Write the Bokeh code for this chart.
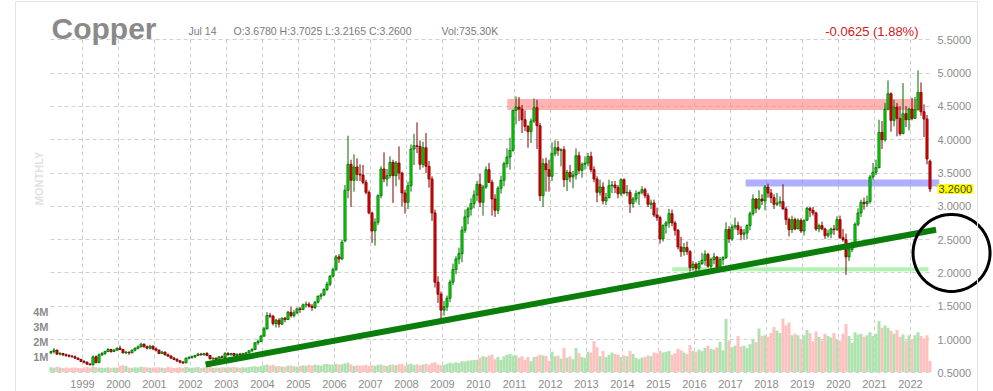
import math
from bokeh.plotting import figure
from bokeh.models import (ColumnDataSource, Range1d, LinearAxis, FixedTicker,
                          NumeralTickFormatter, Label, PolyAnnotation, BoxAnnotation)
from bokeh.embed import file_html
from bokeh.resources import INLINE

# ---------------- data (monthly, Feb 1998 .. Jul 2022) ----------------
start_year, start_month = 1998, 2

opens = [
    .80, .82, .84, .78, .79, .77, .76, .75, .74, .72, .70,
    .67, .66, .63, .62, .74, .655, .77, .79, .82, .85, .82, .84,
    .87, .85, .80, .81, .80, .84, .87, .89, .93, .89, .87, .90,
    .86, .84, .79, .81, .77, .75, .72, .70, .68, .66, .65, .72,
    .73, .74, .76, .78, .77, .79, .76, .71, .72, .70, .74, .73,
    .79, .77, .79, .76, .78, .77, .79, .80, .83, .85, .95, .97,
    1.05, 1.16, 1.36, 1.35, 1.24, 1.29, 1.23, 1.32, 1.30, 1.41, 1.36, 1.40,
    1.46, 1.45, 1.52, 1.53, 1.50, 1.48, 1.56, 1.65, 1.67, 1.75, 1.83, 1.95,
    2.05, 2.24, 2.21, 2.48, 3.24, 3.63, 3.39, 3.59, 3.48, 3.47, 3.36, 3.21,
    2.90, 2.63, 2.76, 3.16, 3.56, 3.41, 3.46, 3.66, 3.46, 3.65, 3.50, 3.20,
    3.06, 3.31, 3.86, 3.91, 3.90, 3.63, 3.88, 3.60, 3.41, 2.90, 1.86, 1.68,
    1.44, 1.49, 1.62, 1.86, 2.05, 2.21, 2.29, 2.64, 2.84, 2.96, 3.04, 3.17,
    3.33, 3.06, 3.29, 3.55, 3.36, 3.11, 2.94, 3.27, 3.39, 3.64, 3.74, 3.84,
    4.44, 4.49, 4.46, 4.30, 4.20, 4.12, 4.28, 4.48, 4.21, 3.16, 3.64, 3.55,
    3.45, 3.79, 3.88, 3.84, 3.85, 3.40, 3.51, 3.44, 3.47, 3.76, 3.54, 3.63,
    3.65, 3.75, 3.55, 3.41, 3.21, 3.29, 3.08, 3.13, 3.31, 3.32, 3.28, 3.19,
    3.40, 3.20, 3.21, 3.04, 3.11, 3.19, 3.21, 3.25, 3.16, 3.03, 3.05, 2.87,
    2.83, 2.51, 2.71, 2.75, 2.89, 2.75, 2.64, 2.39, 2.32, 2.38, 2.32, 2.08,
    2.13, 2.07, 2.14, 2.19, 2.28, 2.10, 2.20, 2.24, 2.08, 2.20, 2.23, 2.65,
    2.51, 2.69, 2.71, 2.65, 2.58, 2.60, 2.71, 2.89, 3.11, 2.97, 3.11, 3.08,
    3.29, 3.20, 3.13, 3.03, 3.05, 3.07, 2.96, 2.80, 2.65, 2.80, 2.66, 2.79,
    2.63, 2.79, 2.97, 2.94, 2.90, 2.66, 2.71, 2.66, 2.56, 2.59, 2.66, 2.65,
    2.80, 2.53, 2.50, 2.24, 2.35, 2.43, 2.73, 2.90, 3.06, 3.04, 3.07, 3.44,
    3.51, 3.58, 4.11, 4.00, 4.46, 4.69, 4.29, 4.49, 4.32, 4.09, 4.39, 4.30,
    4.46, 4.32, 4.45, 4.71, 4.42, 4.31, 3.678,
]
highs = [
    .83, .87, .85, .81, .80, .79, .78, .77, .76, .73, .71,
    .69, .67, .65, .76, .76, .79, .81, .83, .87, .86, .86, .88,
    .91, .86, .83, .82, .85, .88, .91, .95, .94, .91, .92, .91,
    .88, .85, .83, .82, .79, .77, .74, .72, .69, .68, .73, .75,
    .76, .77, .80, .80, .80, .81, .77, .73, .73, .75, .76, .81,
    .81, .80, .80, .79, .80, .80, .81, .84, .87, .96, 1.00, 1.07,
    1.19, 1.41, 1.40, 1.37, 1.31, 1.32, 1.33, 1.34, 1.43, 1.49, 1.44, 1.48,
    1.49, 1.54, 1.57, 1.56, 1.53, 1.58, 1.66, 1.70, 1.77, 1.87, 1.97, 2.08,
    2.27, 2.28, 2.50, 3.32, 4.06, 3.70, 3.78, 3.72, 3.63, 3.62, 3.40, 3.24,
    2.92, 2.82, 3.18, 3.60, 3.81, 3.56, 3.75, 3.70, 3.68, 3.90, 3.52, 3.25,
    3.37, 3.93, 4.09, 4.26, 3.99, 3.97, 4.10, 3.68, 3.45, 2.95, 1.95, 1.72,
    1.58, 1.66, 1.90, 2.14, 2.25, 2.38, 2.70, 2.95, 2.99, 3.12, 3.24, 3.38,
    3.49, 3.32, 3.60, 3.65, 3.40, 3.18, 3.30, 3.46, 3.67, 3.87, 4.03, 4.45,
    4.65, 4.64, 4.52, 4.44, 4.22, 4.32, 4.62, 4.60, 4.25, 3.72, 3.73, 3.70,
    3.96, 3.99, 3.98, 3.87, 3.90, 3.55, 3.62, 3.53, 3.87, 3.82, 3.66, 3.75,
    3.80, 3.82, 3.60, 3.45, 3.40, 3.36, 3.20, 3.40, 3.38, 3.38, 3.32, 3.42,
    3.42, 3.32, 3.25, 3.14, 3.24, 3.22, 3.30, 3.28, 3.20, 3.10, 3.10, 2.98,
    2.86, 2.73, 2.78, 2.96, 2.95, 2.78, 2.66, 2.54, 2.45, 2.47, 2.34, 2.18,
    2.16, 2.18, 2.30, 2.34, 2.30, 2.23, 2.30, 2.25, 2.24, 2.25, 2.76, 2.70,
    2.73, 2.83, 2.77, 2.70, 2.66, 2.73, 2.92, 3.18, 3.12, 3.24, 3.18, 3.32,
    3.34, 3.26, 3.18, 3.20, 3.15, 3.33, 2.99, 2.83, 2.86, 2.83, 2.82, 2.82,
    2.80, 2.99, 2.99, 2.99, 2.92, 2.74, 2.77, 2.68, 2.65, 2.68, 2.72, 2.85,
    2.86, 2.66, 2.59, 2.40, 2.47, 2.76, 2.97, 3.10, 3.13, 3.16, 3.47, 3.65,
    3.70, 4.30, 4.28, 4.55, 4.89, 4.71, 4.60, 4.55, 4.50, 4.85, 4.50, 4.48,
    4.63, 4.64, 5.04, 4.86, 4.53, 4.37, 3.7025,
]
lows = [
    .78, .79, .77, .76, .75, .74, .73, .73, .71, .69, .66,
    .64, .62, .61, .61, .64, .64, .75, .77, .81, .80, .81, .83,
    .84, .79, .78, .77, .79, .82, .85, .88, .88, .85, .85, .84,
    .82, .78, .78, .76, .74, .71, .69, .66, .64, .63, .64, .70,
    .71, .72, .75, .76, .76, .75, .70, .69, .69, .69, .72, .72,
    .76, .76, .75, .74, .76, .76, .77, .79, .81, .84, .92, .96,
    1.04, 1.15, 1.32, 1.21, 1.18, 1.18, 1.22, 1.26, 1.29, 1.33, 1.33, 1.38,
    1.40, 1.44, 1.48, 1.48, 1.43, 1.46, 1.54, 1.60, 1.65, 1.73, 1.80, 1.93,
    2.03, 2.15, 2.19, 2.46, 3.12, 2.99, 3.22, 3.38, 3.38, 3.33, 3.18, 2.88,
    2.45, 2.41, 2.72, 3.12, 3.36, 3.30, 3.42, 3.05, 3.30, 3.40, 3.00, 2.89,
    2.96, 3.22, 3.62, 3.80, 3.55, 3.58, 3.50, 3.28, 2.78, 1.78, 1.55, 1.30,
    1.36, 1.43, 1.56, 1.82, 1.98, 2.13, 2.16, 2.60, 2.73, 2.86, 2.97, 3.08,
    2.99, 2.86, 3.26, 3.35, 2.86, 2.84, 2.88, 3.19, 3.30, 3.58, 3.55, 3.82,
    4.23, 4.28, 4.10, 4.13, 3.88, 3.95, 4.25, 3.86, 3.08, 2.99, 3.22, 3.22,
    3.38, 3.75, 3.76, 3.60, 3.29, 3.23, 3.36, 3.27, 3.40, 3.49, 3.43, 3.55,
    3.60, 3.51, 3.36, 3.06, 3.16, 3.03, 3.02, 3.12, 3.20, 3.20, 3.12, 3.15,
    3.18, 3.15, 2.90, 2.98, 3.06, 3.02, 3.18, 3.12, 2.99, 2.96, 2.84, 2.78,
    2.44, 2.47, 2.59, 2.68, 2.70, 2.56, 2.35, 2.24, 2.26, 2.27, 2.02, 2.04,
    1.99, 2.03, 2.12, 2.11, 2.08, 2.06, 2.13, 2.05, 2.06, 2.12, 2.21, 2.45,
    2.48, 2.65, 2.57, 2.49, 2.50, 2.51, 2.64, 2.86, 2.90, 2.94, 3.02, 2.94,
    3.13, 3.05, 2.96, 3.00, 3.00, 2.95, 2.72, 2.55, 2.60, 2.64, 2.66, 2.60,
    2.56, 2.78, 2.84, 2.86, 2.63, 2.61, 2.64, 2.51, 2.53, 2.52, 2.57, 2.63,
    2.51, 2.47, 1.97, 2.18, 2.31, 2.41, 2.70, 2.84, 2.95, 2.99, 3.04, 3.40,
    3.47, 3.57, 3.86, 3.97, 4.44, 4.12, 4.20, 4.05, 4.06, 4.09, 4.19, 4.14,
    4.29, 4.31, 4.44, 4.36, 4.04, 3.63, 3.2165,
]
closes = [
    .82, .84, .78, .79, .77, .76, .75, .74, .72, .70, .67,
    .66, .63, .62, .74, .655, .77, .79, .82, .85, .82, .84, .87,
    .85, .80, .81, .80, .84, .87, .89, .93, .89, .87, .90, .86,
    .84, .79, .81, .77, .75, .72, .70, .68, .66, .65, .72, .73,
    .74, .76, .78, .77, .79, .76, .71, .72, .70, .74, .73, .79,
    .77, .79, .76, .78, .77, .79, .80, .83, .85, .95, .97, 1.05,
    1.16, 1.36, 1.35, 1.24, 1.29, 1.23, 1.32, 1.30, 1.41, 1.36, 1.40, 1.46,
    1.45, 1.52, 1.53, 1.50, 1.48, 1.56, 1.65, 1.67, 1.75, 1.83, 1.95, 2.05,
    2.24, 2.21, 2.46, 3.24, 3.63, 3.39, 3.59, 3.48, 3.47, 3.36, 3.21, 2.90,
    2.63, 2.76, 3.16, 3.56, 3.41, 3.46, 3.66, 3.46, 3.65, 3.50, 3.20, 3.06,
    3.31, 3.86, 3.91, 3.90, 3.63, 3.88, 3.60, 3.41, 2.90, 1.86, 1.68, 1.44,
    1.49, 1.62, 1.86, 2.05, 2.21, 2.29, 2.64, 2.84, 2.96, 3.04, 3.17, 3.33,
    3.06, 3.29, 3.55, 3.36, 3.11, 2.94, 3.27, 3.39, 3.64, 3.74, 3.84, 4.44,
    4.49, 4.46, 4.30, 4.20, 4.12, 4.28, 4.48, 4.21, 3.16, 3.64, 3.55, 3.45,
    3.79, 3.88, 3.84, 3.85, 3.40, 3.51, 3.44, 3.47, 3.76, 3.54, 3.63, 3.65,
    3.75, 3.55, 3.41, 3.21, 3.29, 3.08, 3.13, 3.31, 3.32, 3.28, 3.19, 3.40,
    3.20, 3.21, 3.04, 3.11, 3.19, 3.21, 3.25, 3.16, 3.03, 3.05, 2.87, 2.83,
    2.51, 2.71, 2.75, 2.89, 2.75, 2.64, 2.39, 2.32, 2.38, 2.32, 2.08, 2.13,
    2.07, 2.14, 2.19, 2.28, 2.10, 2.20, 2.24, 2.08, 2.20, 2.23, 2.65, 2.51,
    2.69, 2.71, 2.65, 2.58, 2.60, 2.71, 2.89, 3.11, 2.97, 3.11, 3.08, 3.29,
    3.20, 3.13, 3.03, 3.05, 3.07, 2.96, 2.80, 2.65, 2.80, 2.66, 2.79, 2.63,
    2.79, 2.97, 2.94, 2.90, 2.66, 2.71, 2.66, 2.56, 2.59, 2.66, 2.65, 2.80,
    2.53, 2.50, 2.24, 2.35, 2.43, 2.73, 2.90, 3.06, 3.04, 3.07, 3.44, 3.51,
    3.58, 4.11, 4.00, 4.46, 4.69, 4.29, 4.49, 4.32, 4.09, 4.39, 4.30, 4.46,
    4.32, 4.45, 4.71, 4.42, 4.31, 3.71, 3.26,
]
volumes_m = [
    .32, .28, .35, .30, .26, .30, .25, .28, .30, .27, .25,
    .30, .33, .28, .36, .32, .30, .29, .26, .31, .27, .30, .28,
    .42, .45, .40, .30, .28, .32, .30, .35, .33, .30, .28, .30,
    .30, .32, .28, .27, .33, .30, .26, .28, .31, .29, .34, .30,
    .28, .30, .33, .27, .30, .32, .35, .28, .30, .29, .31, .30,
    .33, .30, .35, .30, .28, .31, .30, .33, .36, .38, .35, .40,
    .45, .50, .42, .48, .38, .40, .36, .35, .42, .44, .38, .36,
    .40, .45, .42, .48, .44, .50, .46, .42, .52, .55, .50, .48,
    .55, .50, .52, .58, .62, .50, .40, .45, .42, .45, .48, .40,
    .45, .42, .48, .50, .44, .40, .48, .50, .45, .52, .55, .42,
    .50, .55, .48, .52, .45, .50, .55, .48, .60, .65, .50, .45,
    .48, .55, .62, .58, .65, .60, .72, .70, .75, .78, .80, .82,
    .95, 1.05, 1.00, 1.10, 1.15, .85, 1.00, .80, 1.05, 1.15, 1.20, 1.10,
    1.10, .95, 1.05, .82, 1.00, .72, 1.00, 1.05, 1.15, 1.10, 1.08, .75,
    1.35, 1.05, 1.10, .90, 1.60, .95, 1.05, .85, 1.60, 1.25, 1.00, .95,
    1.35, 1.30, 2.05, 1.65, 1.05, 1.40, 1.00, 1.15, 1.30, 1.20, 1.15, 1.00,
    1.10, 1.05, 1.40, 1.20, .95, .85, .95, 1.00, 1.10, 1.05, 1.30, 1.25,
    1.40, 1.30, 1.35, 1.40, 1.15, 1.25, 1.55, 1.45, 1.30, 1.20, 1.80, 1.40,
    1.35, 1.50, 1.40, 1.60, 1.75, 1.55, 1.50, 1.65, 2.00, 1.45, 3.55, 2.10,
    1.65, 1.75, 2.40, 1.70, 1.75, 1.60, 1.85, 2.20, 2.00, 2.90, 2.40, 2.45,
    2.35, 2.60, 3.00, 2.75, 2.60, 3.55, 3.10, 3.30, 2.45, 2.55, 2.45, 2.20,
    2.45, 2.80, 2.60, 2.05, 2.70, 2.35, 2.10, 2.55, 2.40, 2.30, 2.60, 2.15,
    2.10, 2.55, 3.20, 2.40, 1.95, 2.65, 2.50, 2.55, 2.35, 2.45, 2.65, 2.40,
    2.55, 3.40, 2.95, 3.10, 2.95, 2.75, 2.55, 2.80, 2.35, 2.50, 2.10, 2.45,
    2.20, 2.45, 2.65, 2.40, 2.25, 2.45, 0.74,
]

year_ticks = list(range(1999, 2023))
price_ticks = [0.5, 1.0, 1.5, 2.0, 2.5, 3.0, 3.5, 4.0, 4.5, 5.0, 5.5]
volume_ticks = [1, 2, 3, 4]
volume_labels = {1: "1M", 2: "2M", 3: "3M", 4: "4M"}

# hand-drawn annotations on the chart (year, price)
resistance_red = dict(x=[2010.80, 2022.25], y=[4.53, 4.53])
resistance_blue = dict(x=[2017.42, 2022.80], y=[3.35, 3.35])
support_green = dict(x=[2015.38, 2022.50], y=[2.056, 2.056])
trend_line = dict(x=[2002.42, 2022.71], y=[0.625, 2.647])
circle_center = (2023.14, 2.30)
circle_radius_px = 38.5

header_date = "Jul 14"
header_ohlc = "O:3.6780  H:3.7025  L:3.2165  C:3.2600"
header_vol = "Vol:735.30K"
header_change = "-0.0625 (1.88%)"
last_close_label = "3.2600"

# ---------------- geometry (frame = whole canvas) ----------------
W, H = 993, 391
PX_PER_YEAR = 36.0
PX_PER_UNIT = 66.6
PX_PER_MVOL = 15.0
VOL_BASE_PY = 371.5


def X(px):
    return 1999 + (px - 82) / PX_PER_YEAR


def Y(py):
    return 5.5 - (py - 39.3) / PX_PER_UNIT


def V(py):
    return (VOL_BASE_PY - py) / PX_PER_MVOL


n = len(closes)
t = [start_year + (start_month - 1 + k + 0.5) / 12 for k in range(n)]
up = [c >= o for o, c in zip(opens, closes)]

src = ColumnDataSource(dict(
    t=t, o=opens, h=highs, l=lows, c=closes,
    top=[max(o, c) for o, c in zip(opens, closes)],
    bot=[min(o, c) for o, c in zip(opens, closes)],
    fill=["#00e400" if u else "#ea0000" for u in up],
    edge=["#006a00" if u else "#7e0000" for u in up],
    vol=volumes_m,
    vcol=["#aee2ae" if u else "#ffc0c0" for u in up],
))

p = figure(width=W, height=H, x_range=Range1d(X(0), X(W)), y_range=Range1d(Y(H), Y(0)),
           toolbar_location=None, output_backend="svg", x_axis_location=None,
           y_axis_location=None, min_border=0, min_border_left=0, min_border_right=0,
           min_border_top=0, min_border_bottom=0)
p.outline_line_color = None
p.background_fill_color = "white"
p.border_fill_color = "white"
p.extra_y_ranges = {"vol": Range1d(V(H), V(0))}

FONT = "Liberation Sans"
GRAY = "#8c8c8c"

# axes fixed at the edges of the chart area
yax = LinearAxis(ticker=FixedTicker(ticks=price_ticks),
                 formatter=NumeralTickFormatter(format="0.0000"), fixed_location=X(930))
xax = LinearAxis(ticker=FixedTicker(ticks=year_ticks),
                 major_label_overrides={y: str(y) for y in year_ticks}, fixed_location=Y(372.3))
vax = LinearAxis(y_range_name="vol", ticker=FixedTicker(ticks=volume_ticks),
                 major_label_overrides=volume_labels, fixed_location=X(50))
p.add_layout(yax, "right")
p.add_layout(xax, "below")
p.add_layout(vax, "left")
for ax in (yax, xax, vax):
    ax.axis_line_color = None
    ax.major_tick_line_color = None
    ax.minor_tick_line_color = None
    ax.major_tick_out = 0
    ax.major_tick_in = 0
    ax.major_label_text_color = GRAY
    ax.major_label_text_font = FONT
    ax.major_label_text_font_size = "11px"
yax.major_label_standoff = 7
xax.major_label_standoff = 7
vax.major_label_standoff = 2
vax.major_label_text_font_style = "bold"

# grid limited to the chart area
p.xgrid.ticker = FixedTicker(ticks=year_ticks)
p.ygrid.ticker = FixedTicker(ticks=price_ticks)
p.xgrid[0].cross_bounds = (Y(372.3), Y(39.3))
p.ygrid[0].cross_bounds = (X(50), X(930))
for g in (p.xgrid[0], p.ygrid[0]):
    g.grid_line_color = "#d0d0d0"
    g.grid_line_dash = "4 3"
    g.grid_line_width = 1

# volume
p.vbar(x="t", top="vol", bottom=0, width=1 / 12, source=src, fill_color="vcol",
       line_color=None, y_range_name="vol")

# horizontal zones
p.line(resistance_red["x"], resistance_red["y"], line_width=11, line_color="#ff8080",
       line_alpha=0.6, line_cap="butt")
p.line(resistance_blue["x"], resistance_blue["y"], line_width=7, line_color="#7a7aff",
       line_alpha=0.6, line_cap="butt")
p.line(support_green["x"], support_green["y"], line_width=4, line_color="#8fef8f",
       line_alpha=0.7, line_cap="butt")

# candles
p.segment(x0="t", y0="l", x1="t", y1="h", source=src, line_color="edge", line_width=1)
p.vbar(x="t", top="top", bottom="bot", width=0.72 / 12, source=src,
       fill_color="fill", line_color="edge", line_width=0.8)

# trend line
p.line(trend_line["x"], trend_line["y"], line_width=6, line_color="#0a7d0a", line_cap="butt")

# circle (hand-drawn in the original)
cx, cy = circle_center
rx = circle_radius_px / PX_PER_YEAR
ry = circle_radius_px / PX_PER_UNIT
circ_x = [cx + rx * math.cos(2 * math.pi * k / 90) for k in range(90)]
circ_y = [cy + ry * math.sin(2 * math.pi * k / 90) for k in range(90)]
p.add_layout(PolyAnnotation(xs=circ_x, ys=circ_y, fill_color=None, fill_alpha=0,
                            line_color="black", line_alpha=1.0, line_width=3))

# outer chart border
p.add_layout(BoxAnnotation(left=X(15), right=X(977), top=Y(1), bottom=Y(430),
                           fill_color=None, fill_alpha=0, line_color="#e4e4e4",
                           line_alpha=1.0, line_width=1))

# texts
p.add_layout(Label(x=X(51), y=Y(27.5), text="Copper", text_font=FONT, text_font_size="30px",
                   text_font_style="bold", text_color="#8a8a8a", text_baseline="alphabetic"))
for txt, px in ((header_date, 188), (header_ohlc, 233), (header_vol, 441)):
    p.add_layout(Label(x=X(px), y=Y(30.5), text=txt, text_font=FONT, text_font_size="10.5px",
                       text_color="#7a7a7a", text_baseline="alphabetic"))
p.add_layout(Label(x=X(918), y=Y(31), text=header_change, text_font=FONT,
                   text_font_size="13px", text_color="#d11a1a", text_align="right",
                   text_baseline="alphabetic"))
p.add_layout(Label(x=X(38.5), y=Y(178), text="MONTHLY", text_font=FONT, text_font_size="11px",
                   text_font_style="bold", text_color="#e2e2e2", angle=math.pi / 2,
                   text_align="center", text_baseline="middle"))
p.add_layout(Label(x=X(937), y=closes[-1], text=last_close_label, text_font=FONT,
                   text_font_size="11px", text_color="#444444", text_baseline="middle",
                   background_fill_color="#ffff00", padding=1))

open("out.html", "w").write(file_html(p, INLINE))
